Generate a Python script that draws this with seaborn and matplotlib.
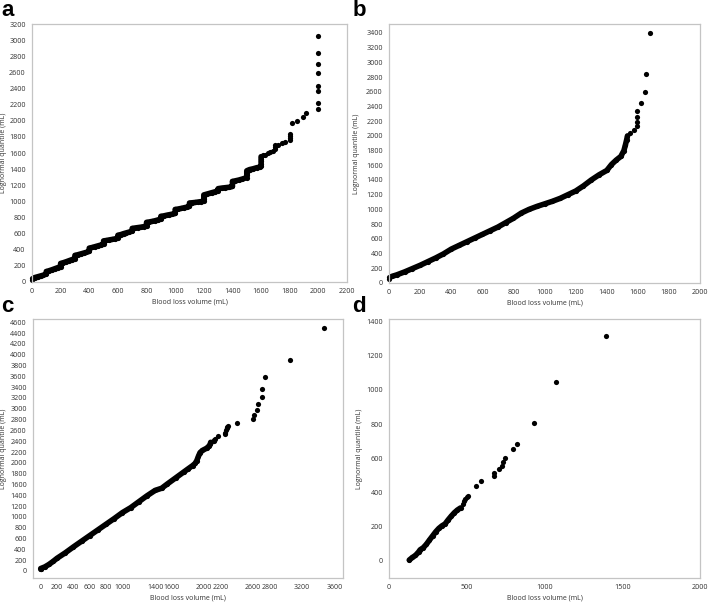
import matplotlib
matplotlib.use("Agg")
import matplotlib.pyplot as plt
import seaborn as sns
from matplotlib.ticker import MultipleLocator, FixedLocator

# Quantile plots of blood loss volume vs lognormal quantile, four cohorts (a-d)
# values; "body" = dense run, "tail" = separate dots

# panel a (blood loss recorded in 100 mL steps -> staircase)
a_loss = [0, 0, 20, 40, 60, 80, 100, 100, 120, 140, 160, 180,
          200, 200, 200, 220, 240, 260, 280, 300, 300, 300, 320, 340, 360, 380,
          400, 400, 400, 420, 440, 460, 480, 500, 500, 500, 520, 540, 560, 580,
          600, 600, 600, 620, 640, 660, 680, 700, 700, 700, 720, 740, 760, 780,
          800, 800, 800, 820, 840, 860, 880, 900, 900, 900, 920, 940, 960, 980,
          1000, 1000, 1000, 1020, 1040, 1060, 1080, 1100, 1100, 1100, 1120, 1140, 1160, 1180,
          1200, 1200, 1200, 1200, 1220, 1240, 1260, 1280, 1300, 1300, 1325, 1350, 1375,
          1400, 1400, 1400, 1420, 1445, 1470, 1500, 1500, 1500, 1500, 1520, 1545, 1570, 1590,
          1600, 1600, 1600, 1600, 1600]
a_quantile = [30, 45, 55, 65, 75, 85, 100, 130, 140, 152, 165, 178,
              190, 210, 230, 240, 252, 265, 278, 290, 310, 330, 338, 348, 358, 368,
              380, 400, 420, 428, 438, 448, 458, 470, 490, 510, 515, 522, 528, 535,
              545, 565, 580, 588, 600, 610, 620, 632, 650, 665, 670, 675, 680, 686,
              695, 720, 740, 745, 752, 760, 770, 782, 800, 815, 820, 828, 835, 842,
              850, 875, 900, 905, 912, 920, 928, 938, 960, 980, 983, 987, 992, 997,
              1005, 1030, 1055, 1080, 1090, 1100, 1110, 1120, 1135, 1158, 1165, 1170, 1175,
              1185, 1215, 1248, 1255, 1265, 1278, 1295, 1325, 1355, 1380, 1395, 1405, 1418, 1425,
              1435, 1465, 1495, 1525, 1555]
a_tail_loss = [1615, 1630, 1650, 1665, 1685, 1700, 1700, 1700, 1720, 1745, 1770,
               1800, 1800, 1800, 1800, 1815, 1850, 1890, 1915,
               2000, 2000, 2000, 2000, 2000, 2000, 2000, 2000]
a_tail_quantile = [1570, 1580, 1595, 1610, 1625, 1645, 1672, 1698, 1705, 1725, 1740,
                   1765, 1790, 1815, 1840, 1968, 1995, 2050, 2092,
                   2150, 2225, 2370, 2430, 2590, 2700, 2838, 3052]

# panel b
b_loss = [0, 0, 20, 50, 100, 150, 200, 250, 300, 350, 400, 450, 500, 550, 600, 650,
          700, 750, 800, 850, 900, 950, 1000, 1050, 1100, 1150, 1200, 1250, 1300,
          1350, 1400, 1430, 1460, 1490, 1510, 1520, 1528, 1533]
b_quantile = [60, 75, 90, 110, 150, 195, 240, 290, 340, 395, 460, 510, 560, 610, 660, 710,
              760, 820, 880, 950, 1000, 1040, 1075, 1110, 1150, 1200, 1250, 1320, 1400,
              1470, 1530, 1610, 1670, 1720, 1800, 1880, 1950, 2000]
b_tail_loss = [1550, 1576, 1596, 1597, 1597, 1596, 1621, 1646, 1654, 1679]
b_tail_quantile = [2036, 2082, 2130, 2190, 2254, 2343, 2450, 2597, 2836, 3395]

# panel c
c_loss = [0, 0, 50, 100, 150, 200, 300, 400, 500, 600, 700, 800, 900, 1000, 1100,
          1200, 1300, 1400, 1480, 1550, 1650, 1750, 1800, 1860, 1890, 1910, 1930,
          1950, 1980, 2030, 2060, 2075, 2080]
c_quantile = [30, 45, 75, 120, 175, 235, 335, 445, 550, 655, 760, 865, 970, 1080, 1170,
              1280, 1390, 1490, 1530, 1610, 1720, 1830, 1885, 1950, 1990, 2040, 2120,
              2190, 2230, 2270, 2310, 2350, 2380]
c_tail_loss = [2120, 2125, 2132, 2175, 2250, 2258, 2266, 2274, 2284, 2290,
               2400, 2600, 2610, 2650, 2655, 2705, 2712, 2750, 3045, 3470]
c_tail_quantile = [2400, 2425, 2450, 2490, 2525, 2560, 2600, 2640, 2670, 2690,
                   2745, 2810, 2890, 2980, 3080, 3210, 3370, 3580, 3905, 4490]

# panel d
d_loss = [130, 150, 170, 190, 200, 220, 240, 260, 280, 300, 320, 340, 360, 380,
          400, 420, 440, 460]
d_quantile = [5, 20, 32, 52, 65, 77, 97, 122, 146, 170, 190, 205, 216, 240,
              262, 282, 298, 310]
d_tail_loss = [474, 480, 490, 500, 510, 561, 589, 675, 675, 707, 725, 735, 745,
               795, 825, 932, 1076, 1392]
d_tail_quantile = [334, 348, 362, 372, 378, 439, 469, 498, 512, 537, 555, 580, 600,
                   657, 682, 808, 1046, 1316]

sns.set_style("white")
plt.rcParams['font.family'] = ['Open Sans', 'DejaVu Sans']

fig = plt.figure(figsize=(7.09, 6.02), dpi=100)

# letter, axes rect, ylabel x (axes coords), letter position (figure coords)
panels = [
    ("a", [0.0451, 0.5316, 0.4443, 0.4284], -0.080, (0.002, 1.0),
     a_loss, a_quantile, a_tail_loss, a_tail_quantile),
    ("b", [0.5487, 0.5300, 0.4388, 0.4300], -0.094, (0.497, 1.0),
     b_loss, b_quantile, b_tail_loss, b_tail_quantile),
    ("c", [0.0465, 0.0399, 0.4373, 0.4301], -0.083, (0.002, 0.508),
     c_loss, c_quantile, c_tail_loss, c_tail_quantile),
    ("d", [0.5487, 0.0399, 0.4388, 0.4301], -0.083, (0.497, 0.508),
     d_loss, d_quantile, d_tail_loss, d_tail_quantile),
]

axes = {}
for letter, rect, ylab_x, let_xy, bx, by, tx, ty in panels:
    ax = fig.add_axes(rect)
    axes[letter] = ax
    # dense run: thick line behind the dots so it reads as a solid band
    sns.lineplot(x=bx, y=by, ax=ax, sort=False, estimator=None, color="black",
                 lw=4.0, solid_capstyle="round", solid_joinstyle="round")
    sns.scatterplot(x=bx + tx, y=by + ty, ax=ax, color="black", s=14,
                    linewidth=0, clip_on=False)
    ax.set_xlabel("Blood loss volume (mL)", fontsize=5, color="#333333", labelpad=2.5)
    ax.set_ylabel("Lognormal quantile (mL)", fontsize=5, color="#333333")
    ax.yaxis.set_label_coords(ylab_x, 0.5)
    for sp in ax.spines.values():
        sp.set_color("#c4c4c4")
        sp.set_linewidth(0.9)
    ax.tick_params(which="both", direction="out", colors="#a0a0a0", labelcolor="#333333",
                   labelsize=5.2, pad=1.5)
    ax.tick_params(which="major", length=3, width=0.6)
    ax.tick_params(which="minor", length=2, width=0.5)
    fig.text(let_xy[0], let_xy[1], letter, fontsize=16, fontweight="bold",
             family="Liberation Sans", ha="left", va="top", color="black")

ax = axes["a"]
ax.set_xlim(0, 2200)
ax.set_ylim(0, 3200)
ax.xaxis.set_major_locator(MultipleLocator(200))
ax.xaxis.set_minor_locator(MultipleLocator(100))
ax.yaxis.set_major_locator(MultipleLocator(200))
ax.yaxis.set_minor_locator(MultipleLocator(100))

ax = axes["b"]
ax.set_xlim(0, 2000)
ax.set_ylim(0, 3520)
ax.xaxis.set_major_locator(MultipleLocator(200))
ax.xaxis.set_minor_locator(MultipleLocator(100))
ax.set_yticks(range(0, 3401, 200))
ax.yaxis.set_minor_locator(MultipleLocator(100))

ax = axes["c"]
ax.set_xlim(-95, 3700)
ax.set_ylim(-130, 4660)
c_xticks = [0, 200, 400, 600, 800, 1000, 1400, 1600, 2000, 2200, 2600, 2800, 3200, 3600]
ax.set_xticks(c_xticks)
ax.xaxis.set_minor_locator(FixedLocator(range(0, 3601, 200)))
ax.tick_params(axis="x", labelsize=5)
ax.set_yticks(range(0, 4601, 200))
ax.yaxis.set_minor_locator(MultipleLocator(100))

ax = axes["d"]
ax.set_xlim(0, 2000)
ax.set_ylim(-100, 1415)
ax.xaxis.set_major_locator(MultipleLocator(500))
ax.xaxis.set_minor_locator(MultipleLocator(250))
ax.set_yticks(range(0, 1401, 200))
ax.yaxis.set_minor_locator(MultipleLocator(100))

fig.savefig("out.png", dpi=100)
